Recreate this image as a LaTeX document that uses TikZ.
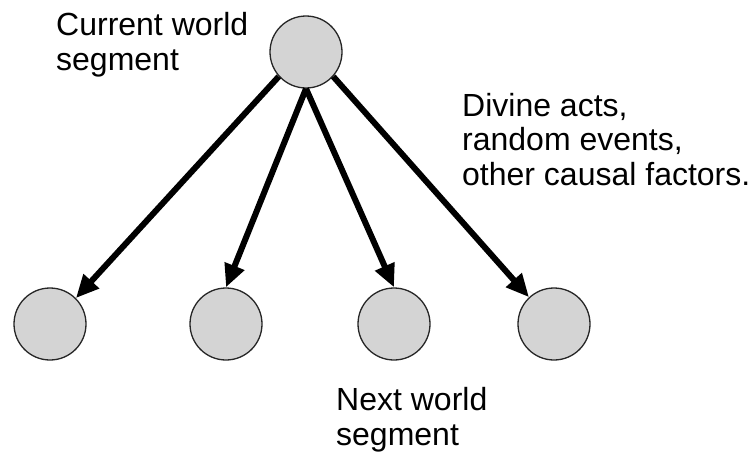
\documentclass[tikz,border=0pt]{standalone}
\usepackage{fontspec}
\setmainfont{Liberation Sans}
\usetikzlibrary{arrows.meta}
\begin{document}
\begin{tikzpicture}[x=1pt,y=-1pt,
 seg/.style={circle,draw=black!85,line width=1.3pt,fill=black!17,minimum size=72pt,inner sep=0pt},
 lbl/.style={anchor=base west,align=left,inner sep=0pt,font=\fontsize{32}{34.5}\selectfont},
 cause/.style={line width=6pt,-{Triangle[length=23pt,width=20pt]}}]
 \useasboundingbox (0,0) rectangle (755,455);
 \node[seg] (cur) at (306,52) {};
 \node[seg] (nxt1) at (50,324) {};
 \node[seg] (nxt2) at (226,324) {};
 \node[seg] (nxt3) at (394,324) {};
 \node[seg] (nxt4) at (554,324) {};
 \node[lbl] (curtxt) at (56,70) {Current world\\segment};
 \node[lbl] (causetxt) at (462,185) {Divine acts,\\random events,\\other causal factors.};
 \node[lbl] (nxttxt) at (336,445) {Next world\\segment};
 \draw[cause] (cur.222) -- (nxt1.45);
 \draw[cause] (cur.south) -- (nxt2.north);
 \draw[cause] (cur.south) -- (nxt3.north);
 \draw[cause] (cur.-42) -- (nxt4.133);
\end{tikzpicture}
\end{document}
